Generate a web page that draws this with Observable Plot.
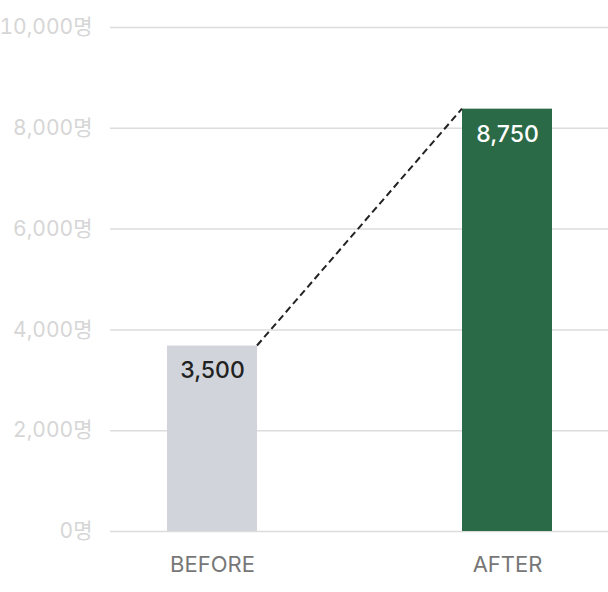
<!DOCTYPE html>
<html>
<head>
<meta charset="utf-8">
<script src="https://cdn.jsdelivr.net/npm/d3@7"></script>
<script src="https://cdn.jsdelivr.net/npm/@observablehq/plot@0.6"></script>
<style>
  html, body { margin: 0; padding: 0; background: #fff; }
  #chart svg { display: block; }
</style>
</head>
<body>
<div id="chart"></div>
<script>
// Data
const categories = ["BEFORE", "AFTER"];
const labelValues = [3500, 8750];      // printed numbers
const barHeights = [3680, 8380];       // drawn bar tops as read against the grid
const barColors = ["#d1d5db", "#2b6a47"];
const labelColors = ["#222222", "#ffffff"];
const yTicks = [0, 2000, 4000, 6000, 8000, 10000];

const data = categories.map((c, i) => ({
  cat: c, value: labelValues[i], height: barHeights[i],
  fill: barColors[i], textFill: labelColors[i]
}));

const font = "Inter, 'Noto Sans CJK KR', 'Noto Sans', sans-serif";

const plot = Plot.plot({
  width: 608,
  height: 592,
  marginLeft: 110,
  marginRight: 0,
  marginTop: 27,
  marginBottom: 61,
  style: { fontFamily: font, fontSize: "21px", background: "#fff", overflow: "visible" },
  x: { domain: categories, paddingInner: 0.696, paddingOuter: 0.19, label: null },
  y: { domain: [0, 10000], label: null },
  marks: [
    Plot.gridY(yTicks, { stroke: "#dcdcdc", strokeOpacity: 1, strokeWidth: 1.5 }),
    Plot.axisY(yTicks, {
      tickSize: 0, tickPadding: 18, color: "#d6d6d6", fontSize: 21,
      tickFormat: d => d3.format(",")(d) + "명", label: null
    }),
    Plot.axisX({ tickSize: 0, tickPadding: 25, color: "#777777", fontSize: 22, label: null }),
    Plot.barY(data, { x: "cat", y: "height", fill: "fill" }),
    Plot.text(data, {
      x: "cat", y: "height", text: d => d3.format(",")(d.value),
      fill: "textFill", dy: 25, fontSize: 23, fontWeight: 500
    })
  ]
});

// Dashed connector from top-right of first bar to top-left of second bar
const sx = plot.scale("x");
const sy = plot.scale("y");
const xa = sx.apply(categories[0]) + sx.bandwidth;
const xb = sx.apply(categories[1]);
const ya = sy.apply(barHeights[0]);
const yb = sy.apply(barHeights[1]);
d3.select(plot).append("line")
  .attr("x1", xa).attr("y1", ya)
  .attr("x2", xb).attr("y2", yb)
  .attr("stroke", "#222")
  .attr("stroke-width", 2)
  .attr("stroke-dasharray", "7,4");

document.getElementById("chart").appendChild(plot);
</script>
</body>
</html>
